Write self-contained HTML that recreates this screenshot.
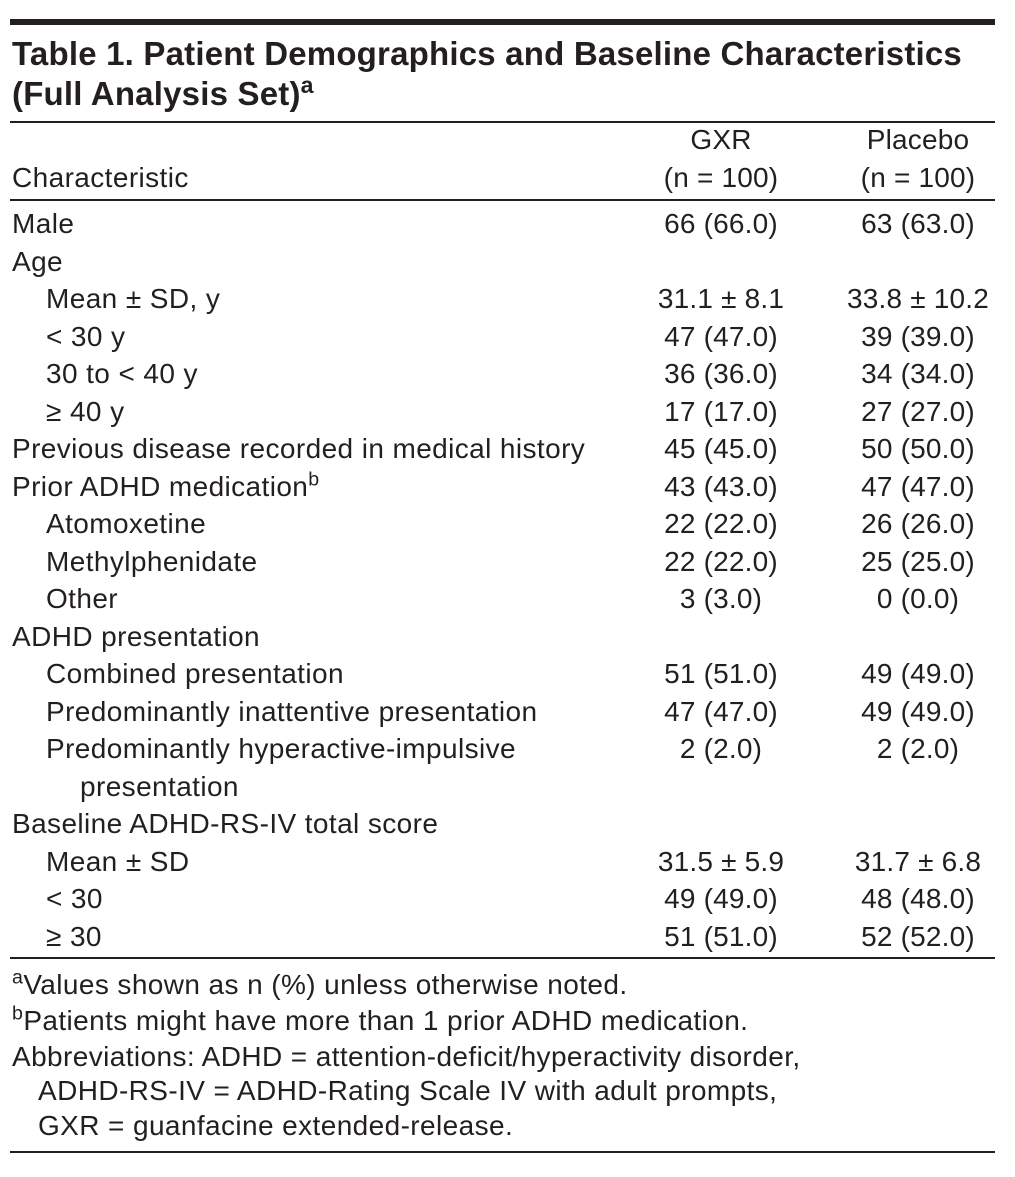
<!DOCTYPE html>
<html><head><meta charset="utf-8"><style>
body{margin:0;background:#fff;}
#t{position:relative;width:1015px;height:1177px;font-family:"Liberation Sans",sans-serif;color:#231f20;font-size:28px;letter-spacing:0.4px;}
.r{position:absolute;background:#231f20;left:10px;width:985px;}
.tx{position:absolute;white-space:nowrap;line-height:30px;}
.c1{position:absolute;width:200px;left:621px;text-align:center;line-height:30px;white-space:nowrap;letter-spacing:0.2px;}
.c2{position:absolute;width:200px;left:818px;text-align:center;line-height:30px;white-space:nowrap;letter-spacing:0.2px;}
.ti{position:absolute;left:12px;font-weight:bold;font-size:33px;letter-spacing:0.2px;white-space:nowrap;}
sup{font-size:0.7em;line-height:0;}
</style></head><body>
<div id="t">
<div class="r" style="top:19px;height:6px"></div>
<div class="ti" style="top:35px">Table 1. Patient Demographics and Baseline Characteristics</div>
<div class="ti" style="top:75px">(Full Analysis Set)<sup>a</sup></div>
<div class="r" style="top:121px;height:2px"></div>
<div class="c1" style="top:125px">GXR</div>
<div class="c1" style="top:163px">(n = 100)</div>
<div class="c2" style="top:125px">Placebo</div>
<div class="c2" style="top:163px">(n = 100)</div>
<div class="tx" style="left:12px;top:163px">Characteristic</div>
<div class="r" style="top:199px;height:2px"></div>
<div id="rows"></div>
<div class="r" style="top:957px;height:2px"></div>
<div class="tx" style="left:12px;top:970px"><sup>a</sup>Values shown as n (%) unless otherwise noted.</div>
<div class="tx" style="left:12px;top:1006px"><sup>b</sup>Patients might have more than 1 prior ADHD medication.</div>
<div class="tx" style="left:12px;top:1042px">Abbreviations: ADHD = attention-deficit/hyperactivity disorder,</div>
<div class="tx" style="left:38px;top:1076px">ADHD-RS-IV = ADHD-Rating Scale IV with adult prompts,</div>
<div class="tx" style="left:38px;top:1111px">GXR = guanfacine extended-release.</div>
<div class="r" style="top:1151px;height:2px"></div>
</div>
<script>
const labels=["Male","Age","Mean ± SD, y","< 30 y","30 to < 40 y","≥ 40 y","Previous disease recorded in medical history","Prior ADHD medication<sup>b</sup>","Atomoxetine","Methylphenidate","Other","ADHD presentation","Combined presentation","Predominantly inattentive presentation","Predominantly hyperactive-impulsive","presentation","Baseline ADHD-RS-IV total score","Mean ± SD","< 30","≥ 30"];
const indent=[0,0,1,1,1,1,0,0,1,1,1,0,1,1,1,2,0,1,1,1];
const gxr=["66 (66.0)","","31.1 ± 8.1","47 (47.0)","36 (36.0)","17 (17.0)","45 (45.0)","43 (43.0)","22 (22.0)","22 (22.0)","3 (3.0)","","51 (51.0)","47 (47.0)","2 (2.0)","","","31.5 ± 5.9","49 (49.0)","51 (51.0)"];
const placebo=["63 (63.0)","","33.8 ± 10.2","39 (39.0)","34 (34.0)","27 (27.0)","50 (50.0)","47 (47.0)","26 (26.0)","25 (25.0)","0 (0.0)","","49 (49.0)","49 (49.0)","2 (2.0)","","","31.7 ± 6.8","48 (48.0)","52 (52.0)"];
const box=document.getElementById('rows');
labels.forEach((l,i)=>{
 const y=209+i*37.5;
 const a=document.createElement('div');a.className='tx';a.style.left=(12+indent[i]*34)+'px';a.style.top=y+'px';a.innerHTML=l;
 
 
 box.appendChild(a);
 if(gxr[i]){const b=document.createElement('div');b.className='c1';b.style.top=y+'px';b.textContent=gxr[i];
 
 
 box.appendChild(b);}
 if(placebo[i]){const c=document.createElement('div');c.className='c2';c.style.top=y+'px';c.textContent=placebo[i];
 
 
 box.appendChild(c);}
});
</script>
</body></html>
